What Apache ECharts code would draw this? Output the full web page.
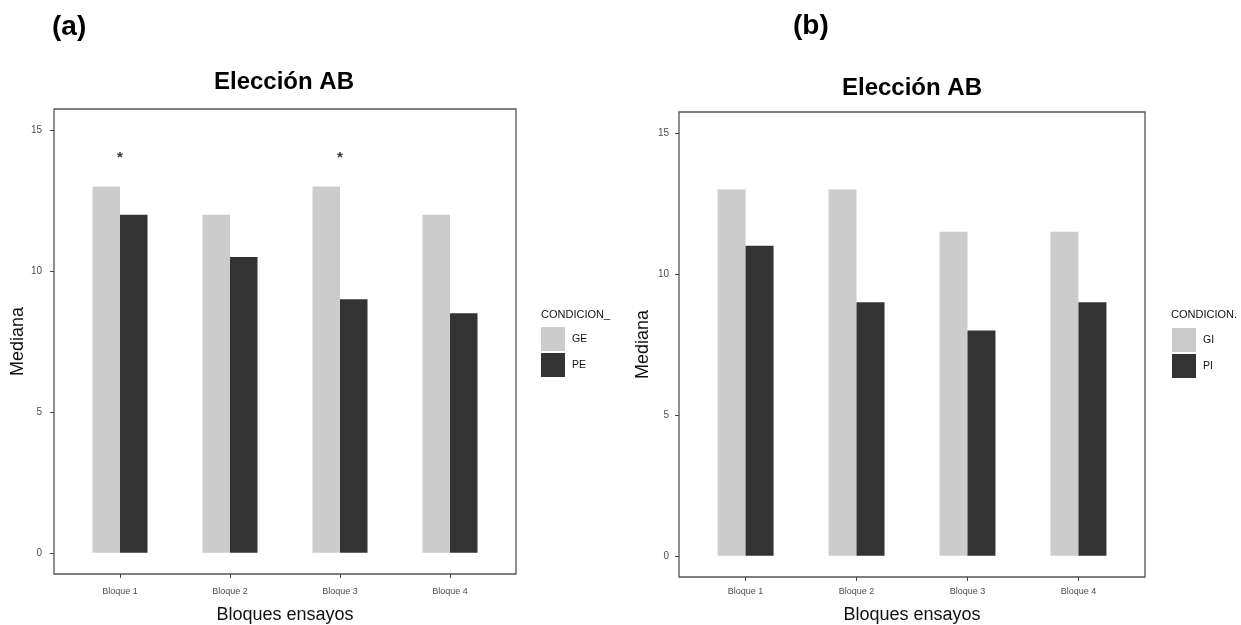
<!DOCTYPE html>
<html>
<head>
<meta charset="utf-8">
<script src="https://cdn.jsdelivr.net/npm/echarts@6/dist/echarts.min.js"></script>
<style>
  html, body { margin: 0; padding: 0; background: #ffffff; }
  #chart { width: 1241px; height: 625px; }
</style>
</head>
<body>
<div id="chart"></div>
<script>
// ---- Data ----
const blocks = [1, 2, 3, 4];
const blockLabels = ['Bloque 1', 'Bloque 2', 'Bloque 3', 'Bloque 4'];
const yTicks = [0, 5, 10, 15];

// Panel (a)
const seriesA1Name = 'GE';
const seriesA2Name = 'PE';
const valuesGE = [13, 12, 13, 12];
const valuesPE = [12, 10.5, 9, 8.5];
const starBlocks = [1, 3];
const starValues = [14, 14];

// Panel (b)
const seriesB1Name = 'GI';
const seriesB2Name = 'PI';
const valuesGI = [13, 13, 11.5, 11.5];
const valuesPI = [11, 9, 8, 9];

const LIGHT = '#cccccc';
const DARK = '#333333';
const FONT = '"Liberation Sans", Arial, sans-serif';

function pairs(xs, ys) { return xs.map((x, i) => [x, ys[i]]); }

function xAxisFor(gridIndex, margin, gap) {
  return {
    type: 'value', gridIndex: gridIndex, min: 0.4, max: 4.6,
    splitLine: { show: false },
    axisLine: { show: false, onZero: false },
    axisTick: { show: true, length: 4, lineStyle: { color: '#444', width: 1 }, customValues: blocks },
    axisLabel: {
      customValues: blocks, margin: margin, fontSize: 9, color: '#4d4d4d', fontFamily: FONT,
      formatter: v => blockLabels[blocks.indexOf(Math.round(v))] || ''
    },
    name: 'Bloques ensayos', nameLocation: 'middle', nameGap: gap,
    nameTextStyle: { fontSize: 18, color: '#111', fontFamily: FONT }
  };
}
function yAxisFor(gridIndex, margin) {
  return {
    type: 'value', gridIndex: gridIndex, min: -0.75, max: 15.75,
    splitLine: { show: false },
    axisLine: { show: false, onZero: false },
    axisTick: { show: true, length: 4, lineStyle: { color: '#444', width: 1 }, customValues: yTicks },
    axisLabel: { customValues: yTicks, margin: margin, fontSize: 10, color: '#4d4d4d', fontFamily: FONT },
    name: 'Mediana', nameLocation: 'middle', nameGap: 27,
    nameTextStyle: { fontSize: 18, color: '#111', fontFamily: FONT }
  };
}

const titleBase = { padding: 0 };
const chart = echarts.init(document.getElementById('chart'), null, { renderer: 'canvas' });
chart.setOption({
  backgroundColor: '#ffffff',
  animation: false,
  title: [
    { ...titleBase, text: '(a)', left: 52, top: 13, textStyle: { fontSize: 28, fontWeight: 'bold', color: '#000', fontFamily: FONT } },
    { ...titleBase, text: '(b)', left: 793, top: 12, textStyle: { fontSize: 28, fontWeight: 'bold', color: '#000', fontFamily: FONT } },
    { ...titleBase, text: 'Elección AB', left: 284, top: 70, textAlign: 'center', textStyle: { fontSize: 24, fontWeight: 'bold', color: '#000', fontFamily: FONT } },
    { ...titleBase, text: 'Elección AB', left: 912, top: 76, textAlign: 'center', textStyle: { fontSize: 24, fontWeight: 'bold', color: '#000', fontFamily: FONT } },
    { ...titleBase, text: 'CONDICION_', left: 541, top: 309, textStyle: { fontSize: 11, fontWeight: 'normal', color: '#111', fontFamily: FONT } },
    { ...titleBase, text: 'CONDICION.', left: 1171, top: 309, textStyle: { fontSize: 11, fontWeight: 'normal', color: '#111', fontFamily: FONT } }
  ],
  legend: [
    {
      data: [seriesA1Name, seriesA2Name], orient: 'vertical', left: 541, top: 327,
      icon: 'rect', itemWidth: 24, itemHeight: 24, itemGap: 2, padding: 0,
      textStyle: { fontSize: 10.5, color: '#111', fontFamily: FONT, padding: [0, 0, 0, 2] },
      selectedMode: false
    },
    {
      data: [seriesB1Name, seriesB2Name], orient: 'vertical', left: 1172, top: 328,
      icon: 'rect', itemWidth: 24, itemHeight: 24, itemGap: 2, padding: 0,
      textStyle: { fontSize: 10.5, color: '#111', fontFamily: FONT, padding: [0, 0, 0, 2] },
      selectedMode: false
    }
  ],
  grid: [
    { left: 54, top: 109, width: 462, height: 465, show: true, borderColor: '#555', borderWidth: 1.3, backgroundColor: '#fff', containLabel: false, outerBoundsMode: 'none' },
    { left: 679, top: 112, width: 466, height: 465, show: true, borderColor: '#555', borderWidth: 1.3, backgroundColor: '#fff', containLabel: false, outerBoundsMode: 'none' }
  ],
  xAxis: [xAxisFor(0, 13, 32), xAxisFor(1, 10, 29)],
  yAxis: [yAxisFor(0, 12), yAxisFor(1, 10)],
  series: [
    { name: seriesA1Name, type: 'bar', xAxisIndex: 0, yAxisIndex: 0, barWidth: 27.5, barGap: '0%',
      itemStyle: { color: LIGHT }, data: pairs(blocks, valuesGE) },
    { name: seriesA2Name, type: 'bar', xAxisIndex: 0, yAxisIndex: 0, barWidth: 27.5, barGap: '0%',
      itemStyle: { color: DARK }, data: pairs(blocks, valuesPE) },
    { name: 'sig', type: 'scatter', xAxisIndex: 0, yAxisIndex: 0, symbolSize: 0,
      label: { show: true, position: 'inside', formatter: '*', fontSize: 15, fontWeight: 'bold', color: '#000', fontFamily: FONT },
      data: pairs(starBlocks, starValues) },
    { name: seriesB1Name, type: 'bar', xAxisIndex: 1, yAxisIndex: 1, barWidth: 28, barGap: '0%',
      itemStyle: { color: LIGHT }, data: pairs(blocks, valuesGI) },
    { name: seriesB2Name, type: 'bar', xAxisIndex: 1, yAxisIndex: 1, barWidth: 28, barGap: '0%',
      itemStyle: { color: DARK }, data: pairs(blocks, valuesPI) }
  ]
});
</script>
</body>
</html>
